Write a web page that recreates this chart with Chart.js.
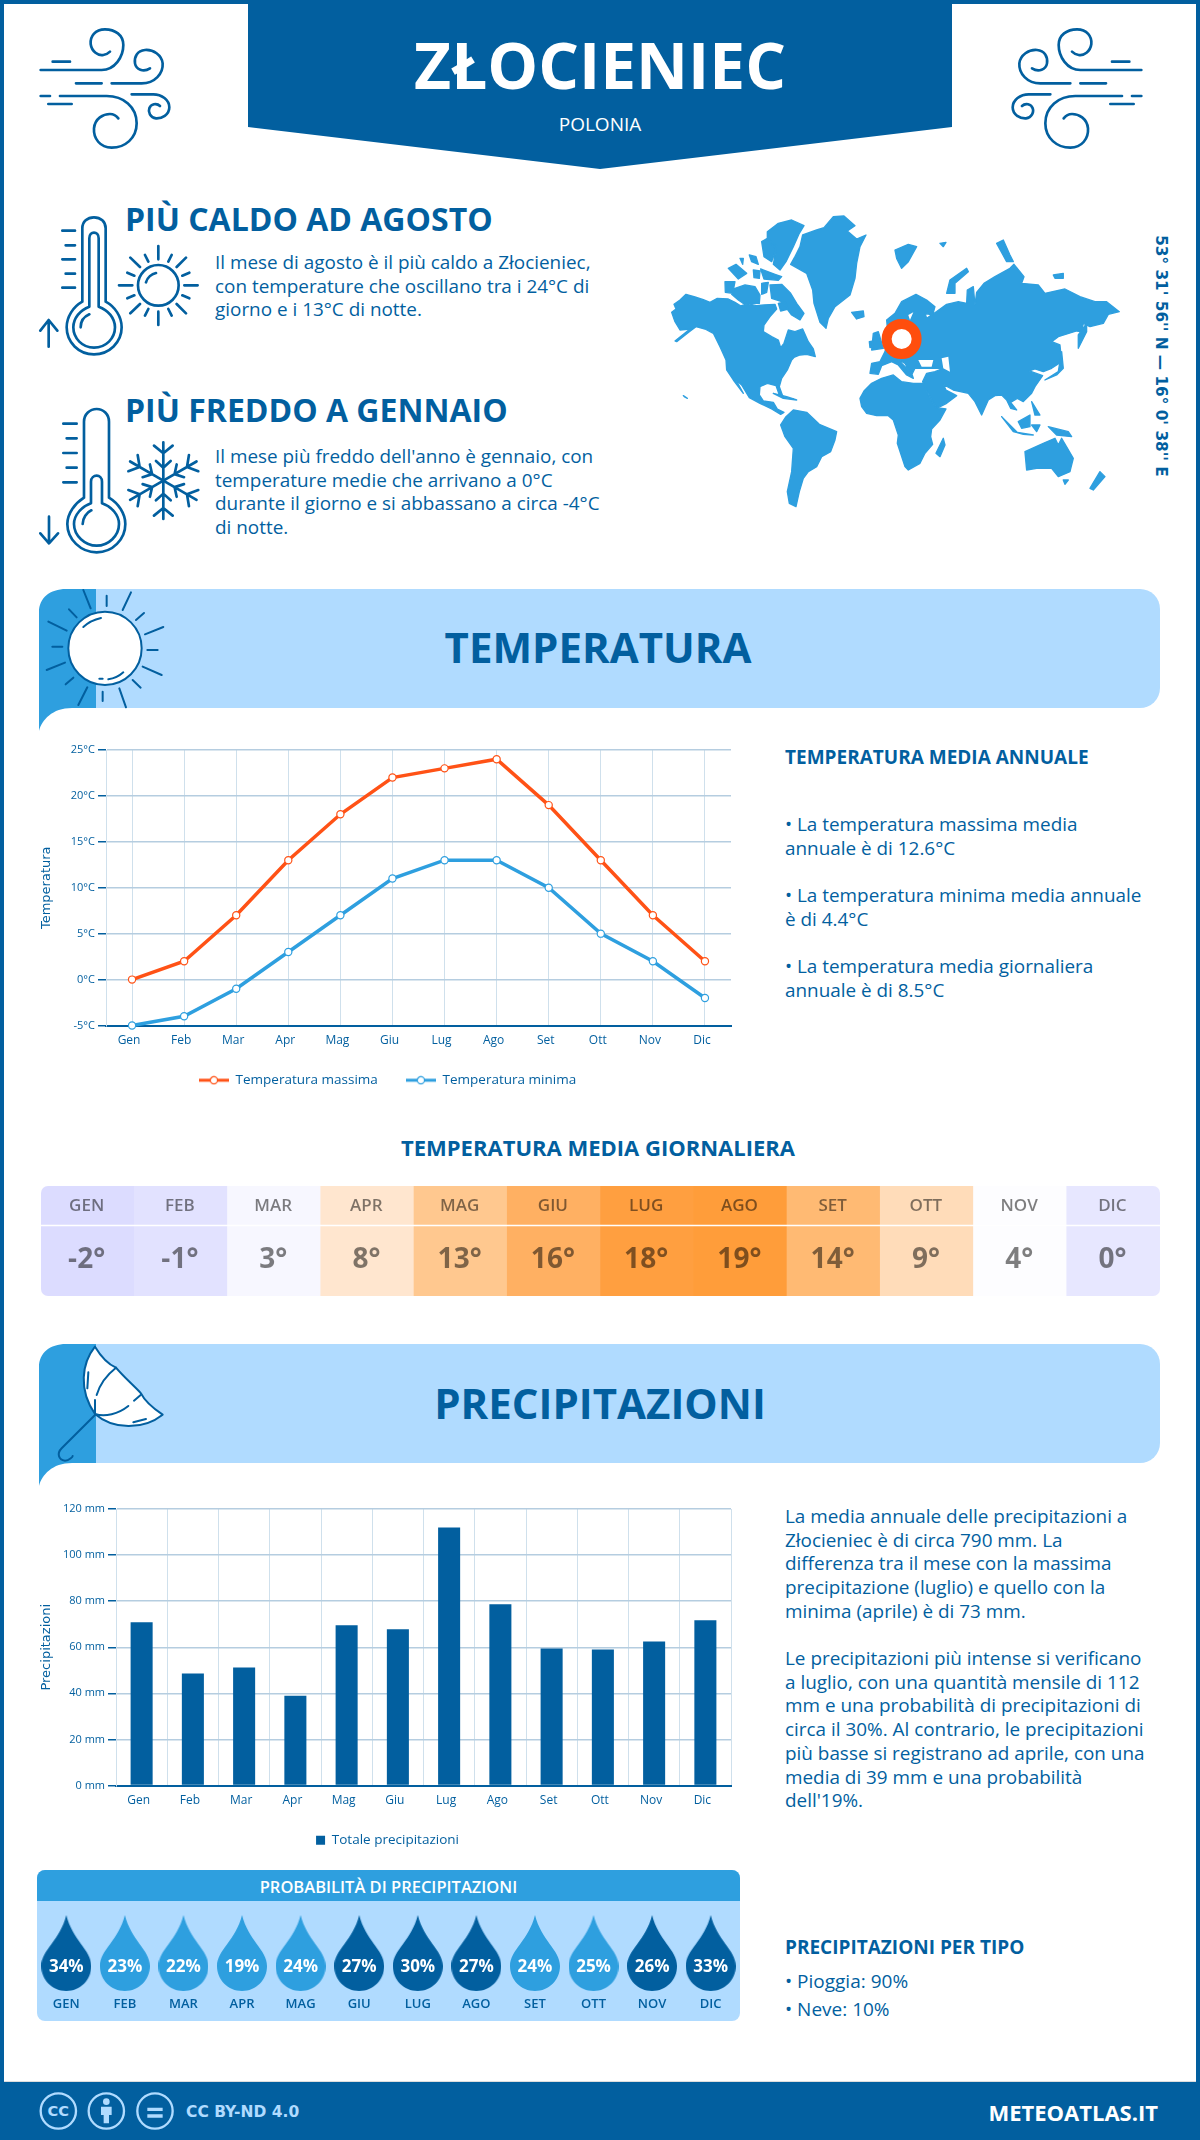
<!DOCTYPE html>
<html lang="it">
<head>
<meta charset="utf-8">
<title>Złocieniec - Polonia</title>
<script src="https://cdn.jsdelivr.net/npm/chart.js@4"></script>
<style>
    html, body { margin: 0; padding: 0; background: #fff; }
    body { position: relative; width: 1200px; height: 2140px; overflow: hidden; font-family: "Open Sans", sans-serif; color: #025f9f; }
    .t { position: absolute; white-space: nowrap; }
    .c { transform: translateX(-50%); }
    .h { font-weight: 700; }
    .p { font-size: 18.9px; line-height: 23.7px; }
    canvas { position: absolute; display: block; }
    svg.art { position: absolute; left: 0; top: 0; }
    .line { fill: none; stroke: #025f9f; stroke-width: 8; stroke-linecap: round; stroke-linejoin: round; }
    .thin { stroke-width: 6; }
</style>
</head>
<body>

<svg class="art" width="1200" height="2140" viewBox="0 0 1200 2140">
    <defs>
        <g id="wind" class="line">
            <path d="M32,150 H215 C255,150 280,110 280,75 C280,45 255,28 225,28 C195,28 180,50 182,72 C185,95 205,108 220,105 C232,103 240,95 240,95"/>
            <path d="M245,190 H335 C375,190 400,160 398,130 C395,105 370,88 345,90 C322,92 312,110 315,130 C318,148 340,158 360,145"/>
            <path d="M68,125 H120 M138,190 H215 M32,228 H60 M55,252 H125"/>
            <path d="M90,228 H230 C280,228 320,260 320,310 C320,355 285,383 245,383 C210,383 190,355 192,325 C195,295 220,282 240,282 C255,282 265,295 265,295"/>
            <path d="M305,223 H370 C395,223 418,240 418,262 C418,285 395,296 378,295 C360,293 354,275 358,265 C362,252 380,248 390,258"/>
        </g>
        <path id="arm" d="M400,827 V712 M372,722 L400,745 L428,722 M378,768 L400,788 L422,768"/>
    </defs>

    <!-- page frame -->
    <rect x="0" y="0" width="1200" height="4" fill="#025f9f"/>
    <rect x="0" y="0" width="4" height="2140" fill="#025f9f"/>
    <rect x="1196" y="0" width="4" height="2140" fill="#025f9f"/>

    <!-- header -->
    <polygon points="248,0 952,0 952,127 600,169 248,127" fill="#025f9f"/>
    <use href="#wind" transform="translate(30,20) scale(.3333)"/>
    <use href="#wind" transform="translate(1152,20) scale(-.3333,.3333)"/>

    <!-- thermometers, sun and snowflake -->
    <g transform="translate(30,205) scale(.3333)" class="line">
        <path d="M157,290 V70 C157,50 172,37 192,37 C212,37 227,50 227,70 V290 C255,305 275,335 275,367 C275,412 238,448 192,448 C146,448 110,412 110,367 C110,335 130,305 157,290 Z"/>
        <path d="M178,305 V100 C178,88 185,83 192,83 C199,83 206,88 206,100 V305 C235,315 255,340 255,367 C255,400 228,428 192,428 C157,428 130,400 130,367 C130,340 150,315 178,305 Z"/>
        <path d="M152,367 C152,350 162,335 178,328 M97,77 H135 M107,121 H135 M97,163 H135 M107,206 H135 M97,248 H135 M56,425 V345 M31,377 L56,345 L82,377"/>
        <circle cx="385" cy="241" r="61"/>
        <path d="M348,232 C352,218 365,207 378,204 M385,123 V163 M385,320 V360 M267,241 H307 M463,241 H503 M301,158 L330,186 M468,158 L440,186 M301,325 L330,297 M468,325 L440,297 M345,150 L355,170 M425,150 L415,170 M292,203 L313,212 M478,203 L457,212 M292,280 L313,271 M478,280 L457,271 M345,332 L355,312 M425,332 L415,312"/>
        <path d="M162,878 V650 C162,628 180,612 200,612 C220,612 237,628 237,650 V878 C265,895 286,925 286,957 C286,1003 248,1042 200,1042 C152,1042 112,1003 112,957 C112,925 135,895 162,878 Z"/>
        <path d="M183,895 V830 C183,818 192,812 200,812 C208,812 216,818 216,830 V895 C245,905 267,930 267,957 C267,992 236,1022 200,1022 C165,1022 132,992 132,957 C132,930 155,905 183,895 Z"/>
        <path d="M158,957 C158,940 170,922 184,916 M100,656 H140 M110,700 H140 M100,744 H140 M110,788 H140 M100,832 H140 M57,1015 V935 M31,985 L57,1015 L84,985"/>
        <use href="#arm"/>
        <use href="#arm" transform="rotate(60 400 827)"/>
        <use href="#arm" transform="rotate(120 400 827)"/>
        <use href="#arm" transform="rotate(180 400 827)"/>
        <use href="#arm" transform="rotate(240 400 827)"/>
        <use href="#arm" transform="rotate(300 400 827)"/>
    </g>

    <!-- world map -->
    <g transform="translate(660,205) scale(.3333)" fill="#2e9fdf" stroke="#2e9fdf" stroke-width="4" stroke-linejoin="round">
        <path d="M35,322 L48,312 L42,298 L60,285 L78,268 L105,276 L130,284 L150,292 L172,280 L205,282 L225,292 L243,303 L262,296 L290,302 L312,300 L345,298 L350,312 L330,335 L312,360 L310,380 L335,395 L355,405 L362,428 L372,415 L385,375 L405,380 L428,372 L445,410 L460,432 L466,455 L440,448 L420,450 L400,458 L418,440 L395,465 L382,495 L365,520 L358,545 L370,578 L358,570 L348,542 L322,535 L300,545 L298,570 L310,588 L340,592 L352,612 L372,622 L362,628 L335,612 L300,595 L268,578 L245,540 L228,525 L250,565 L220,525 L200,495 L198,465 L180,425 L160,385 L135,372 L108,365 L88,380 L50,410 L45,408 L90,372 L60,375 L45,350 Z"/>
        <path d="M215,268 L225,250 L255,240 L285,245 L300,270 L298,295 L250,295 L235,285 Z M195,230 L225,230 L218,265 L196,262 Z M205,190 L228,178 L260,205 L235,222 Z M330,240 L365,238 L392,265 L410,295 L432,325 L420,345 L395,330 L365,290 L335,280 Z M305,235 L325,232 L320,262 L305,268 Z M280,195 L300,198 L298,220 L282,218 Z M302,192 L345,208 L365,215 L355,226 L312,222 Z M268,150 L288,155 L295,178 L275,170 Z M240,160 L250,160 L248,178 Z M305,110 L322,100 L350,122 L342,150 L335,170 L312,155 Z M322,80 L355,55 L395,45 L432,62 L418,85 L400,125 L378,170 L360,195 L340,178 L348,135 L322,100 Z M355,295 L375,290 L385,312 L362,318 Z"/>
        <path d="M392,178 L405,155 L420,125 L428,90 L470,75 L492,68 L520,35 L552,33 L585,62 L562,78 L590,102 L618,90 L600,125 L590,175 L585,220 L570,270 L525,305 L505,340 L498,370 L480,352 L462,295 L458,255 L440,205 Z"/>
        <path d="M362,660 L378,635 L400,615 L440,622 L478,658 L530,680 L525,705 L512,740 L485,755 L470,785 L445,800 L430,820 L418,860 L408,905 L388,895 L382,860 L395,800 L400,730 L375,695 Z"/>
        <path d="M680,345 L705,325 L725,290 L768,268 L800,285 L825,305 L818,330 L795,325 L800,340 L830,320 L860,298 L895,290 L920,295 L922,255 L940,245 L945,300 L950,262 L972,235 L1005,215 L1050,190 L1062,178 L1092,215 L1085,235 L1135,240 L1155,265 L1215,252 L1260,275 L1305,290 L1340,290 L1378,320 L1345,328 L1330,355 L1290,365 L1270,355 L1265,380 L1250,378 L1195,395 L1175,410 L1200,420 L1205,470 L1175,490 L1150,500 L1125,492 L1108,498 L1148,512 L1125,545 L1115,565 L1090,590 L1072,580 L1052,592 L1070,615 L1052,610 L1040,585 L1025,570 L1005,572 L985,585 L965,630 L945,590 L925,565 L880,555 L850,538 L858,555 L890,572 L860,595 L830,610 L805,565 L788,530 L800,505 L825,500 L850,490 L800,490 L765,490 L755,510 L735,475 L712,462 L755,505 L760,520 L740,510 L715,480 L695,470 L665,482 L655,508 L630,505 L635,475 L660,470 L675,440 L685,400 Z"/>
        <path d="M775,465 L820,465 L815,485 L785,485 Z M845,460 L865,455 L870,500 L850,490 Z M745,330 L760,322 L750,345 Z" fill="#fff" stroke="none"/>
        <path d="M600,580 L612,558 L635,535 L665,520 L700,510 L725,530 L760,535 L790,535 L805,570 L828,608 L858,612 L840,645 L815,672 L812,695 L818,718 L795,745 L780,775 L745,795 L735,785 L712,715 L715,690 L700,645 L685,632 L650,632 L620,625 L605,605 Z"/>
        <path d="M850,700 L855,720 L840,755 L828,745 Z M575,322 L610,318 L612,335 L590,342 Z M640,385 L655,380 L670,430 L635,435 Z M628,410 L640,408 L640,425 L630,428 Z M705,135 L745,118 L770,125 L745,170 L725,190 L710,160 Z M1010,115 L1030,105 L1050,150 L1060,170 L1040,170 Z M860,265 L870,225 L920,190 L925,200 L885,235 L885,265 Z M1180,210 L1210,205 L1210,220 L1185,220 Z M1255,390 L1280,355 L1280,380 L1255,430 Z M1155,525 L1195,500 L1205,440 L1210,490 L1190,510 Z M840,115 L858,112 L850,125 Z M70,572 L82,580 L74,576 Z"/>
        <path d="M1025,635 L1070,680 L1060,680 Z M1060,680 L1120,690 L1090,688 Z M1075,650 L1110,630 L1110,665 L1085,670 Z M1115,660 L1140,660 L1130,680 Z M1115,590 L1140,630 L1125,630 Z M1165,665 L1225,680 L1235,695 L1190,690 Z M1095,740 L1150,715 L1185,700 L1195,720 L1205,700 L1240,760 L1230,800 L1195,815 L1175,790 L1130,790 L1100,795 Z M1210,825 L1225,825 L1215,838 Z M1320,800 L1335,815 L1300,855 L1290,850 Z M340,565 L380,575 L410,585 L370,580 Z"/>
        <circle cx="725" cy="402" r="45" fill="#fff" stroke="#ff4e0d" stroke-width="30"/>
    </g>

    <!-- section banner: temperatura -->
    <rect x="60" y="589" width="1100" height="119" rx="20" fill="#b0dbff"/>
    <path d="M39,731 V612 C39,598 50,589 66,589 H96 V708 H72 C52,708 42,720 39,731 Z" fill="#2e9fdf"/>
    <g transform="translate(30,585) scale(.3333)" class="line thin">
        <circle cx="225" cy="190" r="110" fill="#fff"/>
        <path d="M160,126 C175,112 195,103 213,99 M208,281 H218 M235,283 C250,281 268,273 280,262 M160,15 L182,70 M230,32 V63 M303,22 L278,75 M342,84 L318,105 M400,126 L345,148 M352,195 H383 M338,245 L395,270 M308,285 L332,308 M268,310 L288,367 M218,320 V348 M172,307 L145,360 M130,278 L107,298 M105,233 L50,255 M97,185 H67 M110,137 L55,110 M140,97 L117,73"/>
    </g>

    <!-- section banner: precipitazioni -->
    <rect x="60" y="1344" width="1100" height="119" rx="20" fill="#b0dbff"/>
    <path d="M39,1486 V1367 C39,1353 50,1344 66,1344 H96 V1463 H72 C52,1463 42,1475 39,1486 Z" fill="#2e9fdf"/>
    <g transform="translate(30,1340) scale(.3333)" class="line thin">
        <path d="M195,20 C155,70 145,150 195,222 C250,270 340,270 398,224 C370,205 345,185 333,160 C310,135 280,110 258,83 C230,70 210,45 195,20 Z" fill="#fff"/>
        <path d="M258,83 C230,105 210,130 200,165 M195,180 V222 M195,222 C225,232 265,222 295,198 M312,182 L332,165 M175,97 L172,145 M310,247 L348,237 M195,225 L95,325 C80,340 85,360 105,362 C118,362 128,350 128,348"/>
    </g>

    <!-- footer -->
    <rect x="0" y="2082" width="1200" height="58" fill="#025f9f"/>
    <rect x="4" y="2081" width="1192" height="1" fill="#dddddd"/>
    <g transform="translate(30,2085) scale(.3333)">
        <g fill="none" stroke="#b0dbff" stroke-width="7">
            <circle cx="85" cy="78" r="53"/>
            <circle cx="229" cy="78" r="53"/>
            <circle cx="375" cy="78" r="53"/>
        </g>
        <text x="85" y="94" text-anchor="middle" fill="#b0dbff" font-family="DejaVu Sans" font-weight="700" font-size="44">CC</text>
        <circle cx="229" cy="50" r="10" fill="#b0dbff"/>
        <path d="M213,65 H245 V90 H237 V115 H221 V90 H213 Z" fill="#b0dbff"/>
        <path d="M352,68 H398 V78 H352 Z M352,88 H398 V98 H352 Z" fill="#b0dbff"/>
    </g>
</svg>

<!-- header texts -->
<div class="t c h" style="left:600px;top:21px;font-size:64px;line-height:88px;color:#fff">ZŁOCIENIEC</div>
<div class="t c" style="left:600px;top:112px;font-size:19px;line-height:24px;color:#fff">POLONIA</div>

<div class="t h" style="left:125px;top:198px;font-size:32px;line-height:42px">PIÙ CALDO AD AGOSTO</div>
<div class="t p" style="left:215px;top:251px">Il mese di agosto è il più caldo a Złocieniec,<br>con temperature che oscillano tra i 24°C di<br>giorno e i 13°C di notte.</div>
<div class="t h" style="left:125px;top:389px;font-size:32px;line-height:42px">PIÙ FREDDO A GENNAIO</div>
<div class="t p" style="left:215px;top:445px">Il mese più freddo dell'anno è gennaio, con<br>temperature medie che arrivano a 0°C<br>durante il giorno e si abbassano a circa -4°C<br>di notte.</div>

<div class="t" style="left:1161px;top:356px;font-family:'DejaVu Sans';font-weight:700;font-size:15.3px;line-height:20px;transform:translate(-50%,-50%) rotate(90deg)">53° 31' 56'' N — 16° 0' 38'' E</div>

<!-- temperatura -->
<div class="t c h" style="left:598px;top:619px;font-size:42px;line-height:56px">TEMPERATURA</div>
<canvas id="tempChart" width="731" height="379" style="left:30px;top:735px"></canvas>
<div class="t h" style="left:785px;top:744px;font-size:19px;line-height:26px">TEMPERATURA MEDIA ANNUALE</div>
<div class="t p" style="left:785px;top:813px">• La temperatura massima media<br>annuale è di 12.6°C</div>
<div class="t p" style="left:785px;top:884px">• La temperatura minima media annuale<br>è di 4.4°C</div>
<div class="t p" style="left:785px;top:955px">• La temperatura media giornaliera<br>annuale è di 8.5°C</div>

<div class="t c h" style="left:598px;top:1132px;font-size:22px;line-height:30px">TEMPERATURA MEDIA GIORNALIERA</div>
<canvas id="heatChart" width="1119" height="110" style="left:41px;top:1186px;border-radius:7px"></canvas>

<!-- precipitazioni -->
<div class="t c h" style="left:600px;top:1375px;font-size:42px;line-height:56px">PRECIPITAZIONI</div>
<canvas id="rainChart" width="731" height="362" style="left:30px;top:1495px"></canvas>
<div class="t p" style="left:785px;top:1505px">La media annuale delle precipitazioni a<br>Złocieniec è di circa 790 mm. La<br>differenza tra il mese con la massima<br>precipitazione (luglio) e quello con la<br>minima (aprile) è di 73 mm.</div>
<div class="t p" style="left:785px;top:1647px">Le precipitazioni più intense si verificano<br>a luglio, con una quantità mensile di 112<br>mm e una probabilità di precipitazioni di<br>circa il 30%. Al contrario, le precipitazioni<br>più basse si registrano ad aprile, con una<br>media di 39 mm e una probabilità<br>dell'19%.</div>

<div style="position:absolute;left:37px;top:1870px;width:703px;height:151px;background:#b0dbff;border-radius:8px;overflow:hidden">
    <div style="height:31px;background:#2e9fdf;color:#fff;font-weight:600;font-size:16.5px;line-height:33px;text-align:center">PROBABILITÀ DI PRECIPITAZIONI</div>
</div>
<canvas id="dropChart" width="703" height="120" style="left:37px;top:1901px"></canvas>

<div class="t h" style="left:785px;top:1934px;font-size:19px;line-height:26px">PRECIPITAZIONI PER TIPO</div>
<div class="t" style="left:785px;top:1969px;font-size:19px;line-height:24px">• Pioggia: 90%</div>
<div class="t" style="left:785px;top:1997px;font-size:19px;line-height:24px">• Neve: 10%</div>

<div class="t" style="left:186px;top:2102px;font-family:'DejaVu Sans';font-weight:700;font-size:15.5px;line-height:20px;color:#b0dbff">CC BY-ND 4.0</div>
<div class="t h" style="right:42px;top:2096px;font-size:22px;line-height:32px;color:#fff">METEOATLAS.IT</div>

<script>
// Values
const months = ['Gen', 'Feb', 'Mar', 'Apr', 'Mag', 'Giu', 'Lug', 'Ago', 'Set', 'Ott', 'Nov', 'Dic'];
const monthsUpper = ['GEN', 'FEB', 'MAR', 'APR', 'MAG', 'GIU', 'LUG', 'AGO', 'SET', 'OTT', 'NOV', 'DIC'];
const tempMax = [0, 2, 7, 13, 18, 22, 23, 24, 19, 13, 7, 2];
const tempMin = [-5, -4, -1, 3, 7, 11, 13, 13, 10, 5, 2, -2];
const tempAvg = [-2, -1, 3, 8, 13, 16, 18, 19, 14, 9, 4, 0];
const precipitation = [70.8, 48.6, 51.2, 39, 69.5, 67.8, 112, 78.7, 59.5, 59, 62.5, 71.7];
const rainProbability = [34, 23, 22, 19, 24, 27, 30, 27, 24, 25, 26, 33];

// Colours
const darkBlue = '#025f9f';
const midBlue = '#2e9fdf';
const orange = '#ff5216';
const gridH = '#b5cde0';
const gridV = '#cfe0ec';
const heatColors = ['#dcdcff', '#e2e2ff', '#f7f7ff', '#ffe6cf', '#ffc88f', '#ffb062', '#ff9f40', '#ff9d3a', '#ffba73', '#ffdcb9', '#fdfdff', '#e7e7ff'];

Chart.defaults.animation = false;
Chart.defaults.responsive = false;
Chart.defaults.font.family = '"Open Sans", sans-serif';
Chart.defaults.color = darkBlue;
Chart.defaults.plugins.tooltip.enabled = false;

// Legend symbol: a short line with the hollow marker on it
function legendMarker(color) {
    const c = document.createElement('canvas');
    c.width = 30;
    c.height = 10;
    const g = c.getContext('2d');
    g.fillStyle = color;
    g.fillRect(0, 3.5, 30, 3);
    g.beginPath();
    g.arc(15, 5, 3.6, 0, Math.PI * 2);
    g.fillStyle = '#fff';
    g.fill();
    g.strokeStyle = color;
    g.lineWidth = 1.2;
    g.stroke();
    return c;
}

// Teardrop used as the point style of the rain probability chart
function dropImage(color) {
    const c = document.createElement('canvas');
    c.width = 50;
    c.height = 76;
    const g = c.getContext('2d');
    g.beginPath();
    g.moveTo(25, 0);
    g.bezierCurveTo(31, 25, 50, 35, 50, 51);
    g.bezierCurveTo(50, 65, 39, 76, 25, 76);
    g.bezierCurveTo(11, 76, 0, 65, 0, 51);
    g.bezierCurveTo(0, 35, 19, 25, 25, 0);
    g.fillStyle = color;
    g.fill();
    return c;
}

function yAxis(min, max, step, suffix, titleText, width) {
    return {
        min: min,
        max: max,
        afterFit: scale => { scale.width = width; },
        ticks: { stepSize: step, font: { size: 11 }, padding: 3, callback: v => v + suffix },
        grid: { color: gridH, lineWidth: 1.5, tickColor: darkBlue, tickLength: 8 },
        border: { color: gridV, width: 1 },
        title: { display: true, text: titleText, color: darkBlue, font: { family: '"DejaVu Sans"', size: 13 }, padding: { top: 9, bottom: 0 } }
    };
}

function xAxis(height, gridOffset) {
    return {
        offset: true,
        afterFit: scale => { scale.height = height; },
        ticks: { font: { size: 12 }, padding: 8, maxRotation: 0, autoSkip: false, labelOffset: -3 },
        grid: { color: gridV, lineWidth: 1, drawTicks: false, offset: gridOffset },
        border: { color: darkBlue, width: 2 }
    };
}

// Nudge the legend box after layout: the wide gap between entries also pads it vertically
function legendShift(dx, dy) {
    return {
        id: 'legendShift',
        afterLayout(chart) {
            chart.legend.left += dx;
            chart.legend.right += dx;
            chart.legend.top += dy;
            chart.legend.bottom += dy;
        }
    };
}

document.addEventListener('DOMContentLoaded', () => {
    // Temperature lines
    new Chart(document.getElementById('tempChart'), {
        type: 'line',
        data: {
            labels: months,
            datasets: [
                { label: 'Temperatura massima', data: tempMax, borderColor: orange, borderWidth: 3.5, tension: 0, clip: false, pointRadius: 3.6, pointBorderWidth: 1.2, pointBackgroundColor: '#fff', pointBorderColor: orange, pointStyle: 'circle' },
                { label: 'Temperatura minima', data: tempMin, borderColor: midBlue, borderWidth: 3.5, tension: 0, clip: false, pointRadius: 3.6, pointBorderWidth: 1.2, pointBackgroundColor: '#fff', pointBorderColor: midBlue, pointStyle: 'circle' }
            ]
        },
        options: {
            layout: { padding: { top: 15, right: 30 }, autoPadding: false },
            scales: {
                x: xAxis(37, false),
                y: yAxis(-5, 25, 5, '°C', 'Temperatura', 76)
            },
            plugins: {
                legend: {
                    position: 'bottom',
                    labels: {
                        usePointStyle: true,
                        pointStyleWidth: 30,
                        padding: 28,
                        font: { size: 13.5 },
                        generateLabels: () => [
                            { text: 'Temperatura massima', pointStyle: legendMarker(orange), fontColor: darkBlue, lineWidth: 0, datasetIndex: 0 },
                            { text: 'Temperatura minima', pointStyle: legendMarker(midBlue), fontColor: darkBlue, lineWidth: 0, datasetIndex: 1 }
                        ]
                    }
                }
            }
        },
        plugins: [legendShift(7, -17)]
    });

    // Daily mean temperature strip, one full height bar per month
    const heatLabels = {
        id: 'heatLabels',
        afterDatasetsDraw(chart) {
            const ctx = chart.ctx;
            const x = chart.scales.x;
            ctx.save();
            ctx.strokeStyle = '#fff';
            ctx.lineWidth = 1.5;
            ctx.beginPath();
            ctx.moveTo(0, 39.5);
            ctx.lineTo(chart.width, 39.5);
            ctx.stroke();
            ctx.fillStyle = 'rgba(0,0,0,.5)';
            ctx.textAlign = 'center';
            ctx.textBaseline = 'middle';
            monthsUpper.forEach((m, i) => {
                ctx.font = '600 17px "Open Sans"';
                ctx.fillText(m, x.getPixelForValue(i) - 1, 20);
                ctx.font = '700 28px "Open Sans"';
                ctx.fillText(tempAvg[i] + '°', x.getPixelForValue(i) - 1, 74);
            });
            ctx.restore();
        }
    };
    new Chart(document.getElementById('heatChart'), {
        type: 'bar',
        data: {
            labels: monthsUpper,
            datasets: [{ data: tempAvg.map(() => [0, 1]), backgroundColor: heatColors, borderWidth: 0, categoryPercentage: 1, barPercentage: 1 }]
        },
        options: {
            scales: { x: { display: false }, y: { display: false, min: 0, max: 1 } },
            plugins: { legend: { display: false } }
        },
        plugins: [heatLabels]
    });

    // Monthly precipitation bars
    new Chart(document.getElementById('rainChart'), {
        type: 'bar',
        data: {
            labels: months,
            datasets: [{ label: 'Totale precipitazioni', data: precipitation, backgroundColor: darkBlue, categoryPercentage: 0.43, barPercentage: 1 }]
        },
        options: {
            layout: { padding: { top: 14, right: 30 } },
            scales: {
                x: xAxis(36, true),
                y: yAxis(0, 120, 20, ' mm', 'Precipitazioni', 86)
            },
            plugins: {
                legend: { position: 'bottom', labels: { boxWidth: 9, boxHeight: 9, padding: 12, font: { size: 13.5 } } }
            }
        },
        plugins: [legendShift(7, 0)]
    });

    // Rain probability drops
    const dropDark = dropImage(darkBlue);
    const dropMid = dropImage(midBlue);
    const dropLabels = {
        id: 'dropLabels',
        afterDatasetsDraw(chart) {
            const ctx = chart.ctx;
            const x = chart.scales.x;
            ctx.save();
            ctx.textAlign = 'center';
            ctx.textBaseline = 'middle';
            monthsUpper.forEach((m, i) => {
                ctx.fillStyle = '#fff';
                ctx.font = '700 17px "Open Sans"';
                ctx.fillText(rainProbability[i] + '%', x.getPixelForValue(i), 66);
                ctx.fillStyle = darkBlue;
                ctx.font = '600 13px "Open Sans"';
                ctx.fillText(m, x.getPixelForValue(i), 103);
            });
            ctx.restore();
        }
    };
    new Chart(document.getElementById('dropChart'), {
        type: 'line',
        data: {
            labels: monthsUpper,
            datasets: [{
                data: rainProbability.map(() => 0),
                showLine: false,
                clip: false,
                pointRadius: 25,
                pointStyle: rainProbability.map(p => p >= 26 ? dropDark : dropMid)
            }]
        },
        options: {
            layout: { padding: { bottom: 16 }, autoPadding: false },
            scales: { x: { display: false, offset: true }, y: { display: false, min: -1, max: 1 } },
            plugins: { legend: { display: false } }
        },
        plugins: [dropLabels]
    });
});
</script>
</body>
</html>
